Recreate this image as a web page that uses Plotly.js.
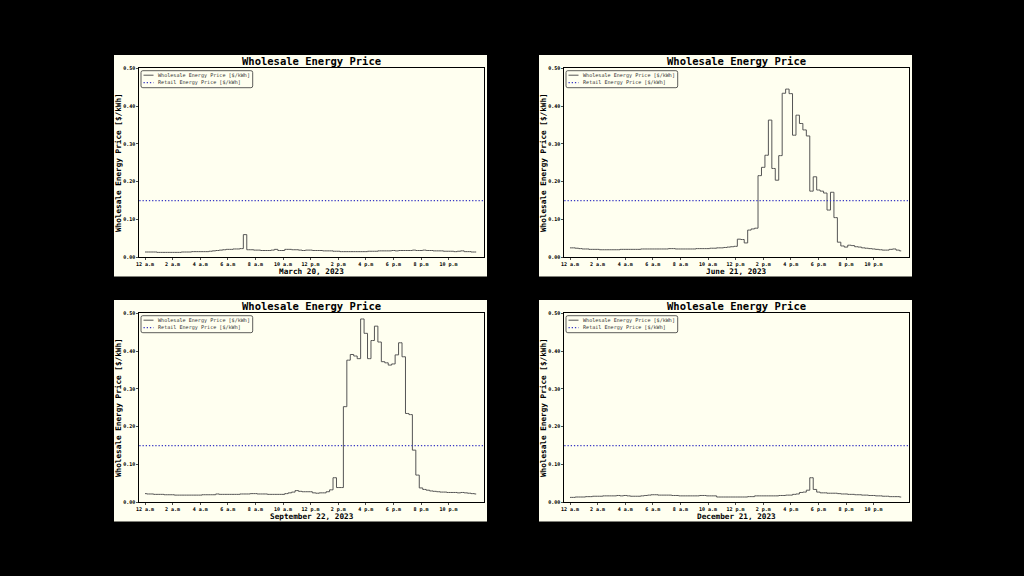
<!DOCTYPE html>
<html><head><meta charset="utf-8">
<script src="https://cdn.plot.ly/plotly-3.0.1.min.js"></script>
<style>html,body{margin:0;padding:0;background:#000;}#chart{width:1024px;height:576px;}</style>
</head><body><div id="chart"></div>
<script>
// ---- DATA ----
// 15-minute intervals, 0:00 .. 24:00 (hours)
const hours = Array.from({length: 97}, (_, i) => i * 0.25);
const tickVals = [0, 2, 4, 6, 8, 10, 12, 14, 16, 18, 20, 22];
const tickLabels = ['12 a.m', '2 a.m', '4 a.m', '6 a.m', '8 a.m', '10 a.m',
                    '12 p.m', '2 p.m', '4 p.m', '6 p.m', '8 p.m', '10 p.m'];
const dates = ['March 20, 2023', 'June 21, 2023', 'September 22, 2023', 'December 21, 2023'];
const retailPrice = 0.15;
const seriesName = 'Wholesale Energy Price [$/kWh]';
const retailName = 'Retail Energy Price [$/kWh]';
const chartTitle = 'Wholesale Energy Price';
const yTitle = 'Wholesale Energy Price [$/kWh]';

const march = [
  0.014,0.014,0.014,0.014,0.013,
  0.013,0.013,0.013,0.013,
  0.013,0.013,0.014,0.014,0.014,0.015,0.015,0.015,
  0.015,0.015,0.016,0.017,
  0.018,0.019,0.020,0.021,
  0.021,0.022,0.022,0.023,
  0.060,
  0.020,0.020,0.019,
  0.019,0.018,0.018,0.018,
  0.019,0.021,0.018,0.018,
  0.021,0.021,0.020,0.020,
  0.019,0.018,0.019,0.019,
  0.018,0.018,0.018,0.017,
  0.017,0.017,0.016,0.016,
  0.015,0.015,0.015,0.015,
  0.015,0.015,0.015,0.015,
  0.016,0.016,0.016,0.017,
  0.017,0.017,0.017,0.018,
  0.017,0.018,0.018,0.018,
  0.018,0.019,0.018,0.018,
  0.019,0.018,0.018,0.017,
  0.017,0.017,0.016,0.016,
  0.016,0.015,0.016,0.017,
  0.015,0.015,0.014,0.014
];
const june = [
  0.025,0.025,0.024,0.023,0.022,
  0.022,0.021,0.021,0.021,
  0.020,0.020,0.020,0.020,0.020,0.020,0.021,0.021,
  0.021,0.021,0.021,0.021,
  0.022,0.022,0.022,0.022,
  0.022,0.022,0.022,0.022,
  0.023,0.023,0.022,0.022,
  0.022,0.022,0.022,0.022,
  0.023,0.023,0.023,0.023,
  0.024,0.024,0.025,0.025,
  0.026,0.027,0.028,0.029,
  0.048,0.047,0.038,0.072,
  0.075,0.077,0.216,0.238,
  0.270,0.363,0.235,0.204,
  0.269,0.434,0.445,0.433,
  0.323,0.376,0.354,0.337,
  0.321,0.175,0.213,0.178,
  0.175,0.170,0.125,0.172,
  0.105,0.040,0.030,0.027,
  0.032,0.031,0.028,0.027,
  0.025,0.024,0.023,0.022,
  0.021,0.020,0.019,0.019,
  0.021,0.022,0.019,0.017
];
const september = [
  0.023,0.022,0.022,0.021,0.021,
  0.021,0.020,0.020,0.020,
  0.019,0.019,0.019,0.019,0.019,0.019,0.019,0.019,
  0.020,0.020,0.020,0.020,
  0.022,0.021,0.021,0.021,
  0.021,0.021,0.021,0.022,
  0.022,0.022,0.023,0.023,
  0.022,0.022,0.022,0.021,
  0.021,0.021,0.021,0.021,
  0.023,0.025,0.027,0.031,
  0.029,0.028,0.028,0.028,
  0.025,0.024,0.025,0.025,
  0.028,0.033,0.065,0.039,
  0.039,0.253,0.376,0.391,
  0.387,0.380,0.485,0.447,
  0.380,0.428,0.466,0.424,
  0.372,0.369,0.363,0.366,
  0.390,0.422,0.385,0.235,
  0.232,0.138,0.072,0.038,
  0.034,0.032,0.030,0.029,
  0.028,0.027,0.027,0.026,
  0.026,0.026,0.025,0.026,
  0.025,0.024,0.023,0.022
];
const december = [
  0.013,0.013,0.014,0.014,0.014,
  0.015,0.015,0.016,0.016,
  0.016,0.017,0.017,0.017,0.017,0.018,0.017,0.018,
  0.017,0.016,0.016,0.016,
  0.017,0.018,0.019,0.020,
  0.020,0.019,0.019,0.019,
  0.019,0.018,0.018,0.017,
  0.017,0.017,0.017,0.017,
  0.017,0.018,0.018,0.017,
  0.017,0.017,0.014,0.014,
  0.014,0.014,0.014,0.014,
  0.014,0.014,0.014,0.015,
  0.015,0.017,0.017,0.017,
  0.017,0.017,0.017,0.017,
  0.018,0.018,0.019,0.019,
  0.021,0.022,0.026,0.027,
  0.032,0.065,0.034,0.027,
  0.025,0.025,0.024,0.024,
  0.024,0.023,0.022,0.022,
  0.021,0.021,0.020,0.020,
  0.019,0.019,0.018,0.018,
  0.017,0.017,0.016,0.016,
  0.015,0.015,0.015,0.014
];
const daySeries = [march, june, september, december];

// ---- STYLE / LAYOUT ----
const W = 1024, H = 576;
const IVORY = '#fffff0';
const FONT = 'DejaVu Sans Mono';
const LINE_COLOR = '#555555';
const RETAIL_COLOR = '#3a3ac4';
const X = px => px / W;
const Y = py => 1 - py / H;
const offsets = [[0, 0], [425, 0], [0, 245], [425, 245]];
const P = {l: 139.3, r: 484, t: 68.3, b: 257.3};
const BG = {l: 114, r: 487, t: 55, b: 276.5};
const xRange = [-0.413, 24.565];

const data = [];
const layout = {
  width: W, height: H,
  margin: {l: 0, r: 0, t: 0, b: 0},
  paper_bgcolor: '#000000',
  plot_bgcolor: IVORY,
  showlegend: false,
  shapes: [], annotations: []
};

function roundRect(x0, y0, x1, y1, r) {
  const a = (x, y) => X(x) + ',' + Y(y);
  return 'M' + a(x0 + r, y0) + ' L' + a(x1 - r, y0) + ' Q' + a(x1, y0) + ' ' + a(x1, y0 + r) +
    ' L' + a(x1, y1 - r) + ' Q' + a(x1, y1) + ' ' + a(x1 - r, y1) +
    ' L' + a(x0 + r, y1) + ' Q' + a(x0, y1) + ' ' + a(x0, y1 - r) +
    ' L' + a(x0, y0 + r) + ' Q' + a(x0, y0) + ' ' + a(x0 + r, y0) + ' Z';
}

daySeries.forEach((vals, k) => {
  const [dx, dy] = offsets[k];
  const sfx = k === 0 ? '' : String(k + 1);
  const xa = 'x' + sfx, ya = 'y' + sfx;

  data.push({
    type: 'scatter', mode: 'lines', name: seriesName,
    x: hours, y: vals, xaxis: xa, yaxis: ya,
    line: {color: LINE_COLOR, width: 1, shape: 'hvh'},
    hoverinfo: 'x+y'
  });

  layout['xaxis' + sfx] = {
    domain: [X(P.l + dx), X(P.r + dx)], anchor: ya,
    range: xRange, tickmode: 'array', tickvals: tickVals, ticktext: tickLabels,
    showgrid: false, zeroline: false,
    showline: true, mirror: true, linecolor: '#000', linewidth: 1,
    ticks: 'outside', ticklen: 2, tickwidth: 0.7, tickcolor: '#000',
    tickfont: {family: FONT, size: 5, color: '#000', weight: 'bold'}
  };
  layout['yaxis' + sfx] = {
    domain: [Y(P.b + dy), Y(P.t + dy)], anchor: xa,
    range: [0, 0.5], tick0: 0, dtick: 0.1, tickformat: '.2f',
    showgrid: false, zeroline: false,
    showline: true, mirror: true, linecolor: '#000', linewidth: 1,
    ticks: 'outside', ticklen: 2, tickwidth: 0.7, tickcolor: '#000',
    tickfont: {family: FONT, size: 5, color: '#000', weight: 'bold'}
  };

  // ivory panel background
  layout.shapes.push({type: 'rect', xref: 'paper', yref: 'paper', layer: 'below',
    x0: X(BG.l + dx), x1: X(BG.r + dx), y0: Y(BG.b + dy), y1: Y(BG.t + dy),
    fillcolor: IVORY, line: {width: 0}});
  // retail price line
  layout.shapes.push({type: 'line', xref: xa + ' domain', yref: ya, layer: 'above',
    x0: 0, x1: 1, y0: retailPrice, y1: retailPrice,
    line: {color: RETAIL_COLOR, width: 1.2, dash: '1.3px,1.9px'}});
  // legend box
  layout.shapes.push({type: 'path', xref: 'paper', yref: 'paper', layer: 'above',
    path: roundRect(141 + dx, 70.7 + dy, 252.7 + dx, 87.7 + dy, 1.8),
    fillcolor: 'rgba(255,255,240,0.85)', line: {color: '#333', width: 0.8}});
  layout.shapes.push({type: 'line', xref: 'paper', yref: 'paper', layer: 'above',
    x0: X(143.5 + dx), x1: X(153.5 + dx), y0: Y(75.2 + dy), y1: Y(75.2 + dy),
    line: {color: LINE_COLOR, width: 1}});
  layout.shapes.push({type: 'line', xref: 'paper', yref: 'paper', layer: 'above',
    x0: X(143.5 + dx), x1: X(153.5 + dx), y0: Y(82.7 + dy), y1: Y(82.7 + dy),
    line: {color: RETAIL_COLOR, width: 1.2, dash: '1.3px,1.9px'}});

  const cx = (P.l + P.r) / 2 + dx;
  layout.annotations.push(
    {xref: 'paper', yref: 'paper', x: X(cx), y: Y(60.7 + dy), text: chartTitle,
     showarrow: false, xanchor: 'center', yanchor: 'middle', borderpad: 0,
     font: {family: FONT, size: 10.5, color: '#000', weight: 'bold'}},
    {xref: 'paper', yref: 'paper', x: X(cx), y: Y(271 + dy), text: dates[k],
     showarrow: false, xanchor: 'center', yanchor: 'middle', borderpad: 0,
     font: {family: FONT, size: 7.7, color: '#000', weight: 'bold'}},
    {xref: 'paper', yref: 'paper', x: X(118.3 + dx), y: Y((P.t + P.b) / 2 + dy), text: yTitle,
     showarrow: false, xanchor: 'center', yanchor: 'middle', textangle: -90, borderpad: 0,
     font: {family: FONT, size: 7.7, color: '#000', weight: 'bold'}},
    {xref: 'paper', yref: 'paper', x: X(157 + dx), y: Y(75.2 + dy), text: seriesName,
     showarrow: false, xanchor: 'left', yanchor: 'middle', borderpad: 0,
     font: {family: FONT, size: 5.1, color: '#333'}},
    {xref: 'paper', yref: 'paper', x: X(157 + dx), y: Y(82.7 + dy), text: retailName,
     showarrow: false, xanchor: 'left', yanchor: 'middle', borderpad: 0,
     font: {family: FONT, size: 5.1, color: '#333'}}
  );
});

Plotly.newPlot('chart', data, layout, {displayModeBar: false, staticPlot: true});
</script>
</body></html>
